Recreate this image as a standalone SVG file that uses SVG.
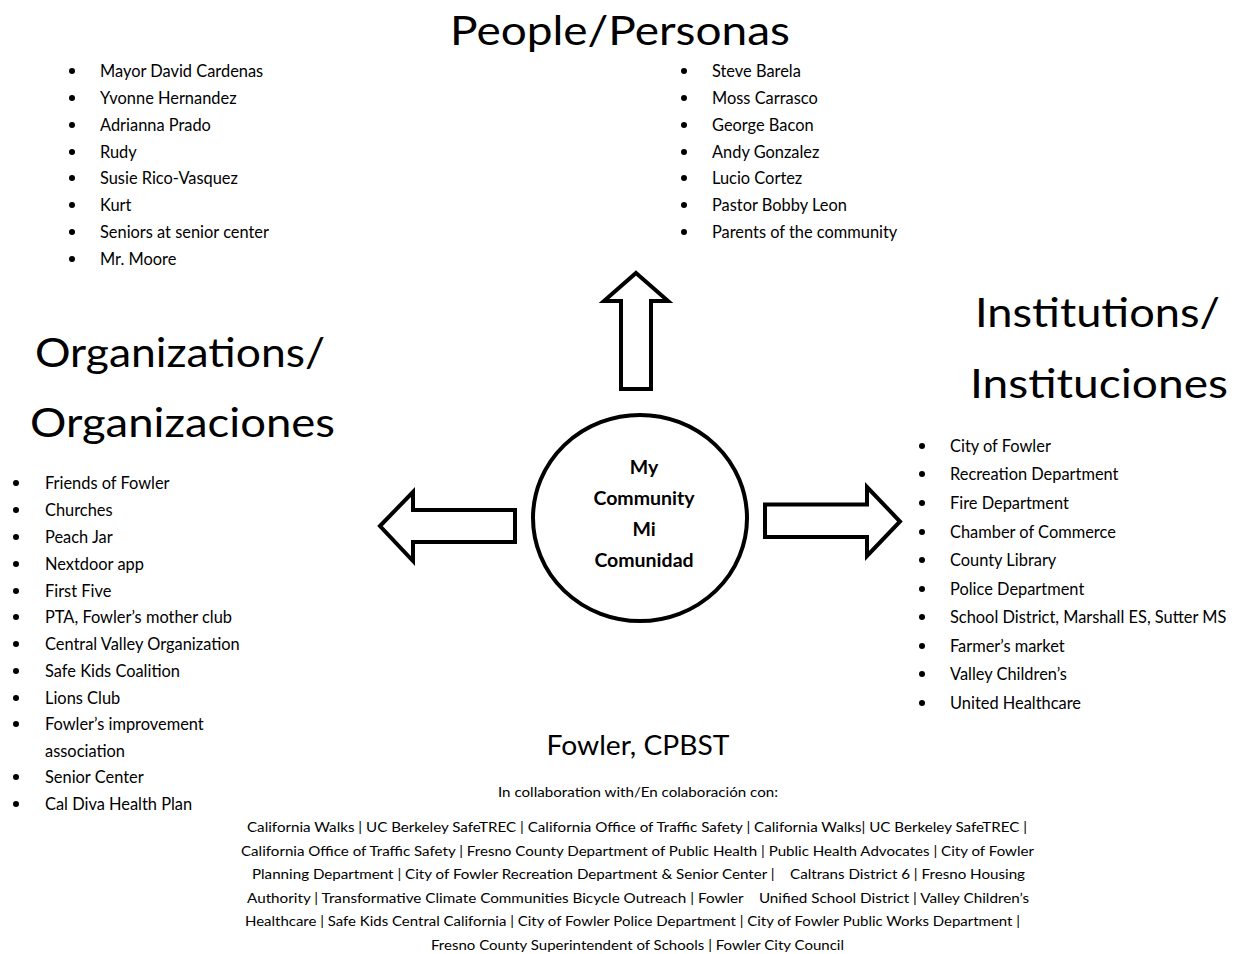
<svg xmlns="http://www.w3.org/2000/svg" width="1236" height="954" viewBox="0 0 1236 954">
<style>
text{font-family:Lato,"Liberation Sans",sans-serif;fill:#000}
.h{font-size:40px}
.li{font-size:16.4px}
.c{font-size:19.5px;font-weight:bold;text-anchor:middle}
.f{font-size:13.5px;text-anchor:middle}
.arrow{fill:#fff;stroke:#000;stroke-width:4;stroke-linejoin:miter}
.b{fill:#000}
</style>
<rect width="1236" height="954" fill="#fff"/>
<g id="title-people">
<text class="h" x="620" y="45" text-anchor="middle" textLength="340" lengthAdjust="spacingAndGlyphs">People/Personas</text>
</g>
<g id="people-left">
<circle class="b" cx="72" cy="71" r="3"/><text class="li" x="100" y="76.5">Mayor David Cardenas</text>
<circle class="b" cx="72" cy="98" r="3"/><text class="li" x="100" y="103.5">Yvonne Hernandez</text>
<circle class="b" cx="72" cy="125" r="3"/><text class="li" x="100" y="130.5">Adrianna Prado</text>
<circle class="b" cx="72" cy="152" r="3"/><text class="li" x="100" y="157.5">Rudy</text>
<circle class="b" cx="72" cy="178" r="3"/><text class="li" x="100" y="183.5">Susie Rico-Vasquez</text>
<circle class="b" cx="72" cy="205" r="3"/><text class="li" x="100" y="210.5">Kurt</text>
<circle class="b" cx="72" cy="232" r="3"/><text class="li" x="100" y="237.5">Seniors at senior center</text>
<circle class="b" cx="72" cy="259" r="3"/><text class="li" x="100" y="264.5">Mr. Moore</text>
</g>
<g id="people-right">
<circle class="b" cx="684" cy="71" r="3"/><text class="li" x="712" y="76.5">Steve Barela</text>
<circle class="b" cx="684" cy="98" r="3"/><text class="li" x="712" y="103.5">Moss Carrasco</text>
<circle class="b" cx="684" cy="125" r="3"/><text class="li" x="712" y="130.5">George Bacon</text>
<circle class="b" cx="684" cy="152" r="3"/><text class="li" x="712" y="157.5">Andy Gonzalez</text>
<circle class="b" cx="684" cy="178" r="3"/><text class="li" x="712" y="183.5">Lucio Cortez</text>
<circle class="b" cx="684" cy="205" r="3"/><text class="li" x="712" y="210.5">Pastor Bobby Leon</text>
<circle class="b" cx="684" cy="232" r="3"/><text class="li" x="712" y="237.5">Parents of the community</text>
</g>
<g id="title-organizations">
<text class="h" x="35" y="367" textLength="290" lengthAdjust="spacingAndGlyphs">Organizations/</text>
<text class="h" x="30" y="437" textLength="305" lengthAdjust="spacingAndGlyphs">Organizaciones</text>
</g>
<g id="organizations">
<circle class="b" cx="16" cy="483" r="3"/><text class="li" x="45" y="488.5">Friends of Fowler</text>
<circle class="b" cx="16" cy="510" r="3"/><text class="li" x="45" y="515.5">Churches</text>
<circle class="b" cx="16" cy="537" r="3"/><text class="li" x="45" y="542.5">Peach Jar</text>
<circle class="b" cx="16" cy="564" r="3"/><text class="li" x="45" y="569.5">Nextdoor app</text>
<circle class="b" cx="16" cy="591" r="3"/><text class="li" x="45" y="596.5">First Five</text>
<circle class="b" cx="16" cy="617" r="3"/><text class="li" x="45" y="622.5">PTA, Fowler’s mother club</text>
<circle class="b" cx="16" cy="644" r="3"/><text class="li" x="45" y="649.5">Central Valley Organization</text>
<circle class="b" cx="16" cy="671" r="3"/><text class="li" x="45" y="676.5">Safe Kids Coalition</text>
<circle class="b" cx="16" cy="698" r="3"/><text class="li" x="45" y="703.5">Lions Club</text>
<circle class="b" cx="16" cy="724" r="3"/><text class="li" x="45" y="729.5">Fowler’s improvement</text>
<text class="li" x="45" y="756.5">association</text>
<circle class="b" cx="16" cy="777" r="3"/><text class="li" x="45" y="782.5">Senior Center</text>
<circle class="b" cx="16" cy="804" r="3"/><text class="li" x="45" y="809.5">Cal Diva Health Plan</text>
</g>
<g id="title-institutions">
<text class="h" x="975" y="327" textLength="245" lengthAdjust="spacingAndGlyphs">Institutions/</text>
<text class="h" x="970" y="398" textLength="258" lengthAdjust="spacingAndGlyphs">Instituciones</text>
</g>
<g id="institutions">
<circle class="b" cx="922" cy="446" r="3"/><text class="li" x="950" y="451.5">City of Fowler</text>
<circle class="b" cx="922" cy="474" r="3"/><text class="li" x="950" y="479.5">Recreation Department</text>
<circle class="b" cx="922" cy="503" r="3"/><text class="li" x="950" y="508.5">Fire Department</text>
<circle class="b" cx="922" cy="532" r="3"/><text class="li" x="950" y="537.5">Chamber of Commerce</text>
<circle class="b" cx="922" cy="560" r="3"/><text class="li" x="950" y="565.5">County Library</text>
<circle class="b" cx="922" cy="589" r="3"/><text class="li" x="950" y="594.5">Police Department</text>
<circle class="b" cx="922" cy="617" r="3"/><text class="li" x="950" y="622.5">School District, Marshall ES, Sutter MS</text>
<circle class="b" cx="922" cy="646" r="3"/><text class="li" x="950" y="651.5">Farmer’s market</text>
<circle class="b" cx="922" cy="674" r="3"/><text class="li" x="950" y="679.5">Valley Children’s</text>
<circle class="b" cx="922" cy="703" r="3"/><text class="li" x="950" y="708.5">United Healthcare</text>
</g>
<g id="connectors">
<polygon class="arrow" points="636,273 668,301 651,301 651,389 621,389 621,301 604,301"/>
<polygon class="arrow" points="380,526 413,492 413,510 515,510 515,542 413,542 413,561"/>
<polygon class="arrow" points="765,504.5 867,504.5 867,487 900,521.5 867,556 867,537 765,537"/>
</g>
<g id="center">
<ellipse cx="640" cy="518" rx="107" ry="103" fill="#fff" stroke="#000" stroke-width="4"/>
<text class="c" x="644" y="473.5">My</text>
<text class="c" x="644" y="504.5">Community</text>
<text class="c" x="644" y="535.5">Mi</text>
<text class="c" x="644" y="566.5">Comunidad</text>
</g>
<g id="footer">
<text x="638" y="755" text-anchor="middle" font-size="26" textLength="183" lengthAdjust="spacingAndGlyphs">Fowler, CPBST</text>
<text x="638" y="797" text-anchor="middle" font-size="12.5" textLength="280" lengthAdjust="spacingAndGlyphs">In collaboration with/En colaboración con:</text>
<text class="f" x="637" y="832" textLength="780" lengthAdjust="spacingAndGlyphs">California Walks | UC Berkeley SafeTREC | California Office of Traffic Safety | California Walks| UC Berkeley SafeTREC |</text>
<text class="f" x="637.5" y="856" textLength="793" lengthAdjust="spacingAndGlyphs">California Office of Traffic Safety | Fresno County Department of Public Health | Public Health Advocates | City of Fowler</text>
<text class="f" x="638.5" y="879" textLength="773" lengthAdjust="spacingAndGlyphs" style="white-space:pre">Planning Department | City of Fowler Recreation Department &amp; Senior Center |    Caltrans District 6 | Fresno Housing</text>
<text class="f" x="638" y="903" textLength="782" lengthAdjust="spacingAndGlyphs" style="white-space:pre">Authority | Transformative Climate Communities Bicycle Outreach | Fowler    Unified School District | Valley Children’s</text>
<text class="f" x="632.5" y="926" textLength="775" lengthAdjust="spacingAndGlyphs">Healthcare | Safe Kids Central California | City of Fowler Police Department | City of Fowler Public Works Department |</text>
<text class="f" x="637.5" y="950" textLength="413" lengthAdjust="spacingAndGlyphs">Fresno County Superintendent of Schools | Fowler City Council</text>
</g>
</svg>
